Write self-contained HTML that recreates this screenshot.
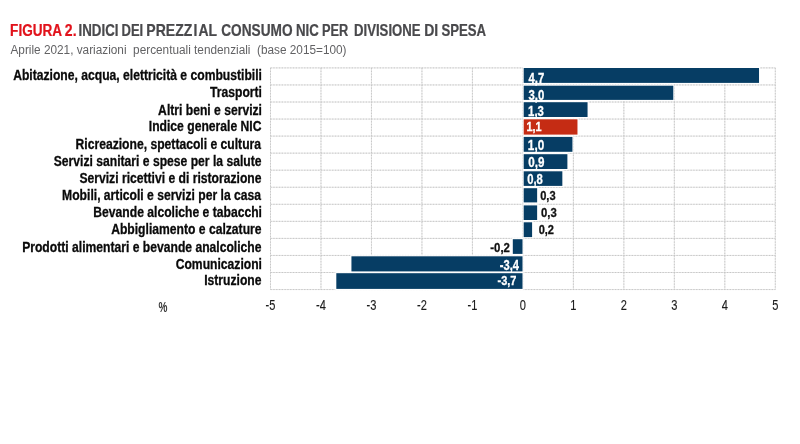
<!DOCTYPE html>
<html lang="it"><head><meta charset="utf-8"><title>Figura 2 - Indici dei prezzi al consumo NIC per divisione di spesa</title>
<style>
html,body{margin:0;padding:0;background:#fff;}
body{width:800px;height:444px;overflow:hidden;}
svg{display:block;font-family:"Liberation Sans",Arial,sans-serif;}
.t{font-weight:bold;font-size:15.6px;stroke-width:0.22px;paint-order:stroke;}
.lab{font-weight:bold;font-size:14.67px;fill:#0a0a0a;stroke:#0a0a0a;stroke-width:0.3px;}
.val{font-weight:bold;stroke-width:0.3px;}
.ax{font-size:14.67px;fill:#1c1c1c;stroke:#1c1c1c;stroke-width:0.15px;text-anchor:middle;}
</style></head><body>
<svg width="800" height="444" viewBox="0 0 800 444">
<rect width="800" height="444" fill="#ffffff"/>
<g class="t">
<text transform="translate(10.08,36.10) scale(0.8713,1)" fill="#e1111a" stroke="#e1111a">FIGURA</text>
<text transform="translate(64.83,36.10) scale(0.9000,1)" fill="#e1111a" stroke="#e1111a">2.</text>
<text transform="translate(78.50,36.10) scale(0.8547,1)" fill="#49494c" stroke="#49494c">INDICI</text>
<text transform="translate(121.52,36.10) scale(0.8345,1)" fill="#49494c" stroke="#49494c">DEI</text>
<text transform="translate(146.29,36.10) scale(0.9000,1)" fill="#49494c" stroke="#49494c">PREZZ<tspan dx="1.27">I</tspan></text>
<text transform="translate(198.55,36.10) scale(0.8932,1)" fill="#49494c" stroke="#49494c">AL</text>
<text transform="translate(221.25,36.10) scale(0.8755,1)" fill="#49494c" stroke="#49494c">CONSUMO</text>
<text transform="translate(295.90,36.10) scale(0.8508,1)" fill="#49494c" stroke="#49494c">NIC</text>
<text transform="translate(322.05,36.10) scale(0.8200,1)" fill="#49494c" stroke="#49494c">PER</text>
<text transform="translate(354.01,36.10) scale(0.8443,1)" fill="#49494c" stroke="#49494c">DIVISIONE</text>
<text transform="translate(424.23,36.10) scale(0.9000,1)" fill="#49494c" stroke="#49494c">DI</text>
<text transform="translate(441.40,36.10) scale(0.8473,1)" fill="#49494c" stroke="#49494c">SPESA</text>
</g>
<text x="10.5" y="54" font-size="12" fill="#626264" textLength="336" lengthAdjust="spacingAndGlyphs" xml:space="preserve">Aprile 2021, variazioni  percentuali tendenziali  (base 2015=100)</text>
<g stroke="#e6e6e6" stroke-width="1" fill="none">
<line x1="270.50" y1="67.90" x2="775.30" y2="67.90"/>
<line x1="270.50" y1="84.95" x2="775.30" y2="84.95"/>
<line x1="270.50" y1="102.00" x2="775.30" y2="102.00"/>
<line x1="270.50" y1="119.05" x2="775.30" y2="119.05"/>
<line x1="270.50" y1="136.10" x2="775.30" y2="136.10"/>
<line x1="270.50" y1="153.15" x2="775.30" y2="153.15"/>
<line x1="270.50" y1="170.20" x2="775.30" y2="170.20"/>
<line x1="270.50" y1="187.25" x2="775.30" y2="187.25"/>
<line x1="270.50" y1="204.30" x2="775.30" y2="204.30"/>
<line x1="270.50" y1="221.35" x2="775.30" y2="221.35"/>
<line x1="270.50" y1="238.40" x2="775.30" y2="238.40"/>
<line x1="270.50" y1="255.45" x2="775.30" y2="255.45"/>
<line x1="270.50" y1="272.50" x2="775.30" y2="272.50"/>
<line x1="270.50" y1="289.55" x2="775.30" y2="289.55"/>
<line x1="270.50" y1="67.90" x2="270.50" y2="289.55"/>
<line x1="320.98" y1="67.90" x2="320.98" y2="289.55"/>
<line x1="371.46" y1="67.90" x2="371.46" y2="289.55"/>
<line x1="421.94" y1="67.90" x2="421.94" y2="289.55"/>
<line x1="472.42" y1="67.90" x2="472.42" y2="289.55"/>
<line x1="522.90" y1="67.90" x2="522.90" y2="289.55"/>
<line x1="573.38" y1="67.90" x2="573.38" y2="289.55"/>
<line x1="623.86" y1="67.90" x2="623.86" y2="289.55"/>
<line x1="674.34" y1="67.90" x2="674.34" y2="289.55"/>
<line x1="724.82" y1="67.90" x2="724.82" y2="289.55"/>
<line x1="775.30" y1="67.90" x2="775.30" y2="289.55"/>
</g>
<g stroke="#c2c2c2" stroke-width="0.85" stroke-dasharray="1.3 1.5" fill="none">
<line x1="270.50" y1="67.90" x2="775.30" y2="67.90"/>
<line x1="270.50" y1="84.95" x2="775.30" y2="84.95"/>
<line x1="270.50" y1="102.00" x2="775.30" y2="102.00"/>
<line x1="270.50" y1="119.05" x2="775.30" y2="119.05"/>
<line x1="270.50" y1="136.10" x2="775.30" y2="136.10"/>
<line x1="270.50" y1="153.15" x2="775.30" y2="153.15"/>
<line x1="270.50" y1="170.20" x2="775.30" y2="170.20"/>
<line x1="270.50" y1="187.25" x2="775.30" y2="187.25"/>
<line x1="270.50" y1="204.30" x2="775.30" y2="204.30"/>
<line x1="270.50" y1="221.35" x2="775.30" y2="221.35"/>
<line x1="270.50" y1="238.40" x2="775.30" y2="238.40"/>
<line x1="270.50" y1="255.45" x2="775.30" y2="255.45"/>
<line x1="270.50" y1="272.50" x2="775.30" y2="272.50"/>
<line x1="270.50" y1="289.55" x2="775.30" y2="289.55"/>
<line x1="270.50" y1="67.90" x2="270.50" y2="289.55"/>
<line x1="320.98" y1="67.90" x2="320.98" y2="289.55"/>
<line x1="371.46" y1="67.90" x2="371.46" y2="289.55"/>
<line x1="421.94" y1="67.90" x2="421.94" y2="289.55"/>
<line x1="472.42" y1="67.90" x2="472.42" y2="289.55"/>
<line x1="522.90" y1="67.90" x2="522.90" y2="289.55"/>
<line x1="573.38" y1="67.90" x2="573.38" y2="289.55"/>
<line x1="623.86" y1="67.90" x2="623.86" y2="289.55"/>
<line x1="674.34" y1="67.90" x2="674.34" y2="289.55"/>
<line x1="724.82" y1="67.90" x2="724.82" y2="289.55"/>
<line x1="775.30" y1="67.90" x2="775.30" y2="289.55"/>
</g>
<rect x="523.70" y="68.00" width="235.32" height="14.90" fill="#063d64" stroke="#fff" stroke-width="2.2" paint-order="stroke"/>
<rect x="523.70" y="85.70" width="149.59" height="14.20" fill="#063d64" stroke="#fff" stroke-width="2.2" paint-order="stroke"/>
<rect x="523.70" y="102.20" width="63.86" height="14.80" fill="#063d64" stroke="#fff" stroke-width="2.2" paint-order="stroke"/>
<rect x="523.70" y="119.30" width="53.77" height="15.30" fill="#c52c14" stroke="#fff" stroke-width="2.2" paint-order="stroke"/>
<rect x="523.70" y="136.90" width="48.73" height="14.90" fill="#063d64" stroke="#fff" stroke-width="2.2" paint-order="stroke"/>
<rect x="523.70" y="154.20" width="43.69" height="14.80" fill="#063d64" stroke="#fff" stroke-width="2.2" paint-order="stroke"/>
<rect x="523.70" y="171.30" width="38.64" height="14.60" fill="#063d64" stroke="#fff" stroke-width="2.2" paint-order="stroke"/>
<rect x="523.70" y="188.20" width="13.43" height="14.20" fill="#063d64" stroke="#fff" stroke-width="2.2" paint-order="stroke"/>
<rect x="523.70" y="205.40" width="13.43" height="14.60" fill="#063d64" stroke="#fff" stroke-width="2.2" paint-order="stroke"/>
<rect x="523.70" y="222.30" width="8.39" height="14.80" fill="#063d64" stroke="#fff" stroke-width="2.2" paint-order="stroke"/>
<rect x="512.81" y="239.20" width="9.69" height="14.70" fill="#063d64" stroke="#fff" stroke-width="2.2" paint-order="stroke"/>
<rect x="351.44" y="256.30" width="171.06" height="15.10" fill="#063d64" stroke="#fff" stroke-width="2.2" paint-order="stroke"/>
<rect x="336.31" y="273.20" width="186.19" height="15.70" fill="#063d64" stroke="#fff" stroke-width="2.2" paint-order="stroke"/>
<text class="lab" text-anchor="end" transform="translate(261.95,79.60) scale(0.828,1)">Abitazione, acqua, elettricità e combustibili</text>
<text class="lab" text-anchor="end" transform="translate(261.97,97.30) scale(0.828,1)">Trasporti</text>
<text class="lab" text-anchor="end" transform="translate(261.97,114.80) scale(0.828,1)">Altri beni e servizi</text>
<text class="lab" text-anchor="end" transform="translate(261.42,131.40) scale(0.828,1)">Indice generale NIC</text>
<text class="lab" text-anchor="end" transform="translate(261.02,148.80) scale(0.828,1)">Ricreazione, spettacoli e cultura</text>
<text class="lab" text-anchor="end" transform="translate(261.50,165.60) scale(0.828,1)">Servizi sanitari e spese per la salute</text>
<text class="lab" text-anchor="end" transform="translate(261.51,182.70) scale(0.828,1)">Servizi ricettivi e di ristorazione</text>
<text class="lab" text-anchor="end" transform="translate(261.03,199.60) scale(0.828,1)">Mobili, articoli e servizi per la casa</text>
<text class="lab" text-anchor="end" transform="translate(261.96,217.00) scale(0.828,1)">Bevande alcoliche e tabacchi</text>
<text class="lab" text-anchor="end" transform="translate(261.52,234.30) scale(0.828,1)">Abbigliamento e calzature</text>
<text class="lab" text-anchor="end" transform="translate(261.51,251.60) scale(0.828,1)">Prodotti alimentari e bevande analcoliche</text>
<text class="lab" text-anchor="end" transform="translate(261.97,268.50) scale(0.828,1)">Comunicazioni</text>
<text class="lab" text-anchor="end" transform="translate(261.50,285.40) scale(0.828,1)">Istruzione</text>
<text class="val" font-size="14.0" fill="#fff" stroke="#fff" transform="translate(528.53,83.10) scale(0.804,1)">4,7</text>
<text class="val" font-size="14.0" fill="#fff" stroke="#fff" transform="translate(528.54,99.90) scale(0.812,1)">3,0</text>
<text class="val" font-size="14.0" fill="#fff" stroke="#fff" transform="translate(528.09,116.40) scale(0.812,1)">1,3</text>
<text class="val" font-size="13.0" fill="#fff" stroke="#fff" transform="translate(526.52,131.10) scale(0.840,1)">1,1</text>
<text class="val" font-size="14.0" fill="#fff" stroke="#fff" transform="translate(527.87,149.70) scale(0.838,1)">1,0</text>
<text class="val" font-size="14.0" fill="#fff" stroke="#fff" transform="translate(528.33,166.80) scale(0.831,1)">0,9</text>
<text class="val" font-size="14.0" fill="#fff" stroke="#fff" transform="translate(527.15,183.50) scale(0.806,1)">0,8</text>
<text class="val" font-size="13.6" fill="#111" stroke="#111" transform="translate(540.16,199.70) scale(0.816,1)">0,3</text>
<text class="val" font-size="13.6" fill="#111" stroke="#111" transform="translate(540.95,216.90) scale(0.833,1)">0,3</text>
<text class="val" font-size="13.6" fill="#111" stroke="#111" transform="translate(538.66,233.75) scale(0.812,1)">0,2</text>
<text class="val" font-size="13.6" fill="#111" stroke="#111" transform="translate(490.24,252.40) scale(0.840,1)">-0,2</text>
<text class="val" font-size="14.0" fill="#fff" stroke="#fff" transform="translate(499.85,270.45) scale(0.796,1)">-3,4</text>
<text class="val" font-size="13.5" fill="#fff" stroke="#fff" transform="translate(497.56,285.00) scale(0.813,1)">-3,7</text>
<text class="ax" transform="translate(270.50,310) scale(0.755,1)">-5</text>
<text class="ax" transform="translate(320.98,310) scale(0.755,1)">-4</text>
<text class="ax" transform="translate(371.46,310) scale(0.755,1)">-3</text>
<text class="ax" transform="translate(421.94,310) scale(0.755,1)">-2</text>
<text class="ax" transform="translate(472.42,310) scale(0.755,1)">-1</text>
<text class="ax" transform="translate(522.90,310) scale(0.755,1)">0</text>
<text class="ax" transform="translate(573.38,310) scale(0.755,1)">1</text>
<text class="ax" transform="translate(623.86,310) scale(0.755,1)">2</text>
<text class="ax" transform="translate(674.34,310) scale(0.755,1)">3</text>
<text class="ax" transform="translate(724.82,310) scale(0.755,1)">4</text>
<text class="ax" transform="translate(775.30,310) scale(0.755,1)">5</text>
<text font-size="13.8" font-weight="bold" fill="#3a3a3a" transform="translate(158.55,311.5) scale(0.727,1)">%</text>
</svg>
</body></html>
